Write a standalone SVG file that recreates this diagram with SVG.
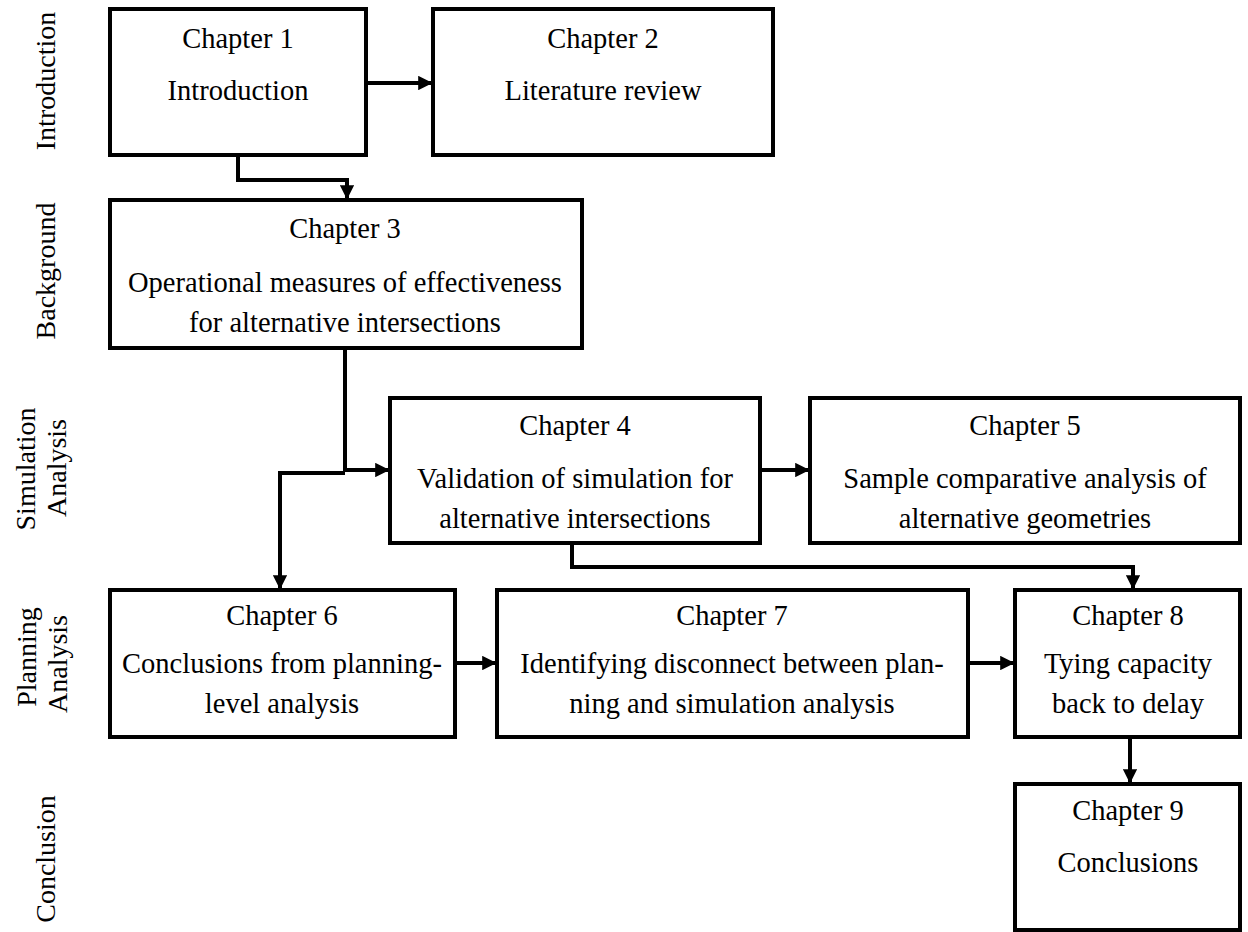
<svg xmlns="http://www.w3.org/2000/svg" width="1248" height="932" viewBox="0 0 1248 932">
<defs>
<marker id="ah" markerWidth="3.6" markerHeight="3.6" refX="3.2" refY="1.8" orient="auto" markerUnits="strokeWidth">
<path d="M0,0 L3.6,1.8 L0,3.6 Z" fill="#000"/>
</marker>
<style>
.box{fill:#fff;stroke:#000;stroke-width:4}
.t{font-family:"Liberation Serif","Times New Roman",serif;font-size:28.5px;fill:#000;text-anchor:middle}
.s{font-family:"Liberation Serif","Times New Roman",serif;font-size:28px;fill:#000;text-anchor:middle}
.c{fill:none;stroke:#000;stroke-width:4;stroke-linejoin:miter}
</style>
</defs>
<rect width="1248" height="932" fill="#fff"/>
<g id="labels">
<text class="s" transform="translate(55,81) rotate(-90)">Introduction</text>
<text class="s" transform="translate(55,271) rotate(-90)">Background</text>
<text class="s" transform="translate(35,469) rotate(-90)">Simulation</text>
<text class="s" transform="translate(66,468) rotate(-90)">Analysis</text>
<text class="s" transform="translate(36,657) rotate(-90)">Planning</text>
<text class="s" transform="translate(67,664) rotate(-90)">Analysis</text>
<text class="s" transform="translate(55,859) rotate(-90)">Conclusion</text>
</g>
<g id="connectors">
<path class="c" d="M366,83 H431" marker-end="url(#ah)"/>
<path class="c" d="M238,155 V180 H347 V198" marker-end="url(#ah)"/>
<path class="c" d="M345,348 V470 H388" marker-end="url(#ah)"/>
<path class="c" d="M345,473 H280 V588" marker-end="url(#ah)"/>
<path class="c" d="M760,470 H808" marker-end="url(#ah)"/>
<path class="c" d="M572,543 V567 H1133 V588" marker-end="url(#ah)"/>
<path class="c" d="M455,663 H495" marker-end="url(#ah)"/>
<path class="c" d="M968,663 H1013" marker-end="url(#ah)"/>
<path class="c" d="M1130,737 V782" marker-end="url(#ah)"/>
</g>
<g id="ch1"><rect class="box" x="110" y="9" width="256" height="146"/>
<text class="t" x="238" y="48">Chapter 1</text><text class="t" x="238" y="100">Introduction</text></g>
<g id="ch2"><rect class="box" x="433" y="9" width="340" height="146"/>
<text class="t" x="603" y="48">Chapter 2</text><text class="t" x="603" y="100">Literature review</text></g>
<g id="ch3"><rect class="box" x="110" y="200" width="472" height="148"/>
<text class="t" x="345" y="238">Chapter 3</text><text class="t" x="345" y="292">Operational measures of effectiveness</text><text class="t" x="345" y="332">for alternative intersections</text></g>
<g id="ch4"><rect class="box" x="390" y="398" width="370" height="145"/>
<text class="t" x="575" y="435">Chapter 4</text><text class="t" x="575" y="488">Validation of simulation for</text><text class="t" x="575" y="528">alternative intersections</text></g>
<g id="ch5"><rect class="box" x="810" y="398" width="430" height="145"/>
<text class="t" x="1025" y="435">Chapter 5</text><text class="t" x="1025" y="488">Sample comparative analysis of</text><text class="t" x="1025" y="528">alternative geometries</text></g>
<g id="ch6"><rect class="box" x="110" y="590" width="345" height="147"/>
<text class="t" x="282" y="625">Chapter 6</text><text class="t" x="282" y="673">Conclusions from planning-</text><text class="t" x="282" y="713">level analysis</text></g>
<g id="ch7"><rect class="box" x="497" y="590" width="471" height="147"/>
<text class="t" x="732" y="625">Chapter 7</text><text class="t" x="732" y="673">Identifying disconnect between plan-</text><text class="t" x="732" y="713">ning and simulation analysis</text></g>
<g id="ch8"><rect class="box" x="1015" y="590" width="225" height="147"/>
<text class="t" x="1128" y="625">Chapter 8</text><text class="t" x="1128" y="673">Tying capacity</text><text class="t" x="1128" y="713">back to delay</text></g>
<g id="ch9"><rect class="box" x="1015" y="784" width="225" height="146"/>
<text class="t" x="1128" y="820">Chapter 9</text><text class="t" x="1128" y="872">Conclusions</text></g>
</svg>
